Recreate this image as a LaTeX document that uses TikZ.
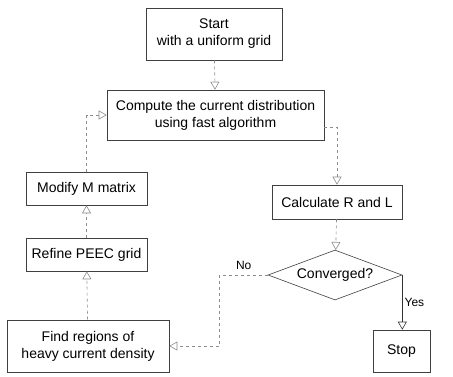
\documentclass[tikz,border=0pt]{standalone}
\usepackage{fontspec}
\setmainfont{Liberation Sans}
\usetikzlibrary{arrows.meta,shapes.geometric}

\begin{document}
\begin{tikzpicture}[x=1pt,y=-1pt,
    box/.style={draw=black!75,line width=0.6pt,fill=white,align=center,
                font=\fontsize{14}{17}\selectfont,inner sep=0pt},
    arr/.style={-{Triangle[open,length=8pt,width=9pt]},black!45,dashed,
                line width=0.6pt},
    lbl/.style={font=\fontsize{12}{14}\selectfont,text=black,inner sep=2pt}
  ]
  \useasboundingbox (0,0) rectangle (453,376);

  % main column
  \node[box,minimum width=136pt,minimum height=52pt] (start)   at (214,34)
    {Start\\with a uniform grid};
  \node[box,minimum width=217pt,minimum height=50pt] (compute) at (215.5,115)
    {Compute the current distribution\\using fast algorithm};
  \node[box,minimum width=130pt,minimum height=34pt] (calc)    at (337,202)
    {Calculate R and L};
  \node[box,shape=diamond,aspect=2.7,minimum width=134pt,minimum height=50pt]
    (conv) at (335,275) {Converged?};
  \node[box,minimum width=57pt,minimum height=42pt]  (stop)    at (401.5,351)
    {Stop};

  % refinement column
  \node[box,minimum width=121pt,minimum height=33pt] (modify)  at (86.5,188.5)
    {Modify M matrix};
  \node[box,minimum width=121pt,minimum height=33pt] (refine)  at (86.5,254.5)
    {Refine PEEC grid};
  \node[box,minimum width=162pt,minimum height=52pt] (find)    at (88,346)
    {Find regions of\\heavy current density};

  \draw[arr] (start)--(compute);
  \draw[arr] ([yshift=-12pt]compute.east) -| (calc.north);
  \draw[arr] (calc)--(conv);
  \draw[arr] (conv.west) -- ++(-48,0) node[lbl,midway,above=3pt] {No}
    |- (find.east);
  \draw[arr,solid,black!80] (conv.east) -- (conv.east |- stop.north)
    node[lbl,midway,right] {Yes};
  \draw[arr] (find)--(refine);
  \draw[arr] (refine)--(modify);
  \draw[arr] (modify.north) |- (compute.west);
\end{tikzpicture}
\end{document}
